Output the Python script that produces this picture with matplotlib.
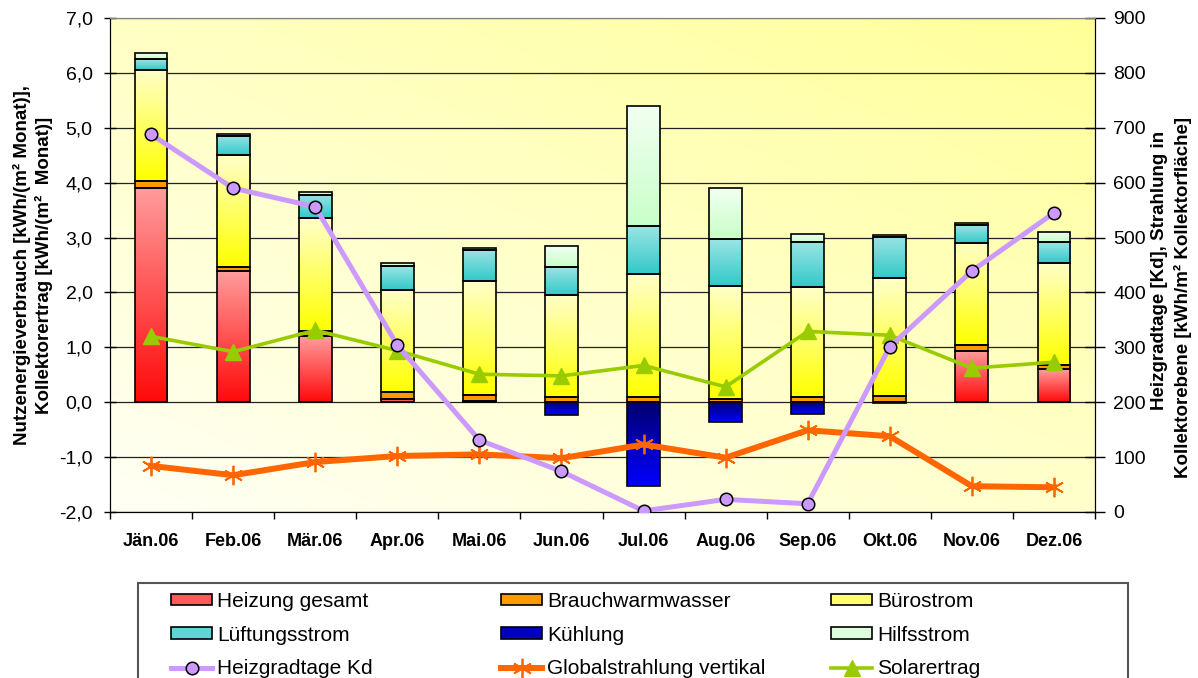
import numpy as np
import matplotlib
matplotlib.use("Agg")
import matplotlib.pyplot as plt
from matplotlib.colors import to_rgb
from matplotlib.patches import Patch, Rectangle
from matplotlib.lines import Line2D

plt.rcParams['font.family'] = ['Liberation Sans', 'DejaVu Sans']

# ---- data -------------------------------------------------------------
months = ['Jän.06', 'Feb.06', 'Mär.06', 'Apr.06', 'Mai.06', 'Jun.06',
          'Jul.06', 'Aug.06', 'Sep.06', 'Okt.06', 'Nov.06', 'Dez.06']

# energy use per month [kWh/(m² Monat)]
heizung = [3.90, 2.39, 1.20, 0.05, 0.03, 0.00, 0.00, 0.00, 0.00, 0.00, 0.93, 0.60]
brauchwarmwasser = [0.13, 0.07, 0.10, 0.13, 0.10, 0.10, 0.10, 0.05, 0.10, 0.12, 0.11, 0.07]
buerostrom = [2.03, 2.04, 2.05, 1.87, 2.07, 1.86, 2.24, 2.07, 2.00, 2.14, 1.86, 1.86]
lueftungsstrom = [0.20, 0.35, 0.43, 0.43, 0.57, 0.50, 0.87, 0.85, 0.81, 0.75, 0.32, 0.38]
hilfsstrom = [0.10, 0.04, 0.05, 0.05, 0.04, 0.39, 2.19, 0.94, 0.15, 0.04, 0.05, 0.19]
kuehlung = [0.00, 0.00, 0.00, 0.00, 0.00, -0.24, -1.52, -0.36, -0.21, -0.02, 0.00, 0.00]

# collector yield [kWh/(m² Monat)] (left axis)
solarertrag = [1.20, 0.92, 1.31, 0.94, 0.51, 0.48, 0.67, 0.28, 1.29, 1.22, 0.62, 0.73]

# right axis: heating degree days [Kd] and global radiation [kWh/m²]
heizgradtage = [688, 590, 556, 304, 131, 74, 2, 23, 15, 301, 439, 545]
globalstrahlung = [84, 67, 91, 102, 105, 98, 123, 99, 149, 138, 47, 45]

left_ticks = [-2, -1, 0, 1, 2, 3, 4, 5, 6, 7]
left_ticklabels = ['-2,0', '-1,0', '0,0', '1,0', '2,0', '3,0', '4,0', '5,0', '6,0', '7,0']
right_ticks = [0, 100, 200, 300, 400, 500, 600, 700, 800, 900]

# ---- figure -------------------------------------------------------------
W, H = 1198, 678
fig = plt.figure(figsize=(W / 100, H / 100), dpi=100)
fig.patch.set_facecolor('white')
ax1 = fig.add_axes([110 / W, 166 / H, 985 / W, 494 / H])
ax2 = ax1.twinx()

x = np.arange(len(months))
bar_w = 0.4

# plot-area background: diagonal pale-to-yellow wash
gx, gy = np.meshgrid(np.linspace(0, 1, 200), np.linspace(1, 0, 200))
tt = np.clip((gx * 0.55 + gy * 0.65) / 1.2, 0, 1)[..., None]
c0 = np.array(to_rgb('#FFFFF6'))
c1 = np.array(to_rgb('#FFFF99'))
bg = c0 * (1 - tt) + c1 * tt
ax1.imshow(bg, extent=[0, 1, 0, 1], transform=ax1.transAxes, aspect='auto',
           interpolation='bilinear', zorder=-10)


def gradient_fill(ax, patches, top, bottom):
    ct = np.array(to_rgb(top))
    cb = np.array(to_rgb(bottom))
    t = np.linspace(0, 1, 64)[:, None]
    grad = (ct * (1 - t) + cb * t)[:, None, :]
    for p in patches:
        y0, h = p.get_y(), p.get_height()
        lo, hi = min(y0, y0 + h), max(y0, y0 + h)
        if hi - lo <= 0:
            continue
        im = ax.imshow(grad, extent=[p.get_x(), p.get_x() + p.get_width(), lo, hi],
                       origin='upper', aspect='auto', interpolation='bilinear', zorder=2)
        im.set_clip_path(p)


stack = [
    (heizung, '#FF9C9C', '#FF0A0A', 'Heizung gesamt', '#FF5A5A'),
    (brauchwarmwasser, '#FF9900', '#FF9900', 'Brauchwarmwasser', '#FF9900'),
    (buerostrom, '#FFFFC8', '#FFFF00', 'Bürostrom', '#FFFF70'),
    (lueftungsstrom, '#9AE4E4', '#33C9C9', 'Lüftungsstrom', '#5FD6D6'),
    (hilfsstrom, '#F2FFF2', '#C8FFC8', 'Hilfsstrom', '#DDFFDD'),
]
bottom = np.zeros(len(months))
for vals, ctop, cbot, _, _ in stack:
    v = np.array(vals)
    bars = ax1.bar(x, v, bar_w, bottom=bottom, facecolor='none',
                   edgecolor='black', linewidth=1.2, zorder=3)
    gradient_fill(ax1, bars, ctop, cbot)
    bottom = bottom + v

bars = ax1.bar(x, kuehlung, bar_w, facecolor='none', edgecolor='black',
               linewidth=1.2, zorder=3)
gradient_fill(ax1, bars, '#000070', '#0000FF')

# collector yield on the left axis
ax1.plot(x, solarertrag, color='#99CC00', lw=2.6, marker='^', ms=11,
         mfc='#99CC00', mec='#99CC00', zorder=5)

# right-axis series
ax2.plot(x, globalstrahlung, color='#FF6600', lw=4.3, marker=(6, 2, 0), ms=14,
         mec='#FF6600', mew=1.3, zorder=5)
ax2.plot(x, heizgradtage, color='#CC99FF', lw=3.6, marker='o', ms=9,
         mfc='#CC99FF', mec='black', mew=1.1, zorder=6)

# ---- axes styling -------------------------------------------------------
ax1.set_xlim(-0.5, len(months) - 0.5)
ax1.set_ylim(-2, 7)
ax2.set_ylim(0, 900)

ax1.set_yticks(left_ticks)
ax1.set_yticklabels(left_ticklabels)
ax2.set_yticks(right_ticks)
ax2.set_yticklabels([str(v) for v in right_ticks])

for yv in left_ticks:
    ax1.axhline(yv, color='#808080' if yv == 7 else '#222222', lw=0.9, zorder=1)

ax1.set_xticks(x)
ax1.set_xticklabels(months, fontsize=13, fontweight='bold')
ax1.set_xticks(np.arange(len(months) + 1) - 0.5, minor=True)
ax1.tick_params(axis='x', which='major', length=0, pad=15)
ax1.tick_params(axis='x', which='minor', length=5, width=1, direction='out')
ax1.tick_params(axis='y', length=9, width=1, direction='inout', labelsize=14, pad=8)
ax2.tick_params(axis='y', length=14, width=1, direction='inout', labelsize=14, pad=6)

for ax in (ax1, ax2):
    ax.spines['top'].set_color('#808080')
    ax.spines['left'].set_color('black')
    ax.spines['right'].set_color('black')
    ax.spines['bottom'].set_color('black')
ax2.patch.set_visible(False)

# axis titles
fig.text(22 / W, 1 - 265 / H, 'Nutzenergieverbrauch [kWh/(m² Monat)],',
         rotation=90, ha='center', va='center', fontsize=13.5, fontweight='bold')
fig.text(44 / W, 1 - 265 / H, 'Kollektorertrag [kWh/(m²  Monat)]',
         rotation=90, ha='center', va='center', fontsize=13.5, fontweight='bold')
fig.text(1159 / W, 1 - 270 / H, 'Heizgradtage [Kd], Strahlung in',
         rotation=90, ha='center', va='center', fontsize=13.5, fontweight='bold')
fig.text(1183 / W, 1 - 297 / H, 'Kollektorebene [kWh/m² Kollektorfläche]',
         rotation=90, ha='center', va='center', fontsize=13.5, fontweight='bold')

# ---- legend -------------------------------------------------------------
h = {}
for _, _, _, name, mid in stack:
    h[name] = Patch(facecolor=mid, edgecolor='black', linewidth=1.2)
h['Kühlung'] = Patch(facecolor='#0000C0', edgecolor='black', linewidth=1.2)
h['Heizgradtage Kd'] = Line2D([], [], color='#CC99FF', lw=3.6, marker='o', ms=9,
                              mfc='#CC99FF', mec='black', mew=1.1)
h['Globalstrahlung vertikal'] = Line2D([], [], color='#FF6600', lw=4.3,
                                       marker=(6, 2, 0), ms=14, mec='#FF6600', mew=1.3)
h['Solarertrag'] = Line2D([], [], color='#99CC00', lw=2.6, marker='^', ms=11,
                          mfc='#99CC00', mec='#99CC00')

columns = [
    (171, ['Heizung gesamt', 'Lüftungsstrom', 'Heizgradtage Kd']),
    (501, ['Brauchwarmwasser', 'Kühlung', 'Globalstrahlung vertikal']),
    (831, ['Bürostrom', 'Hilfsstrom', 'Solarertrag']),
]
for xc, names in columns:
    fig.legend([h[n] for n in names], names, loc='upper left',
               bbox_to_anchor=(xc / W, 1 - 592 / H), frameon=False,
               fontsize=15, handlelength=1.97, handleheight=0.47,
               handletextpad=0.24, labelspacing=0.70, borderpad=0,
               borderaxespad=0, numpoints=1)

fig.add_artist(Rectangle((138 / W, -0.02), (1128 - 138) / W, (678 - 583) / H + 0.02,
                         transform=fig.transFigure, fill=False,
                         edgecolor='#555555', linewidth=1.5))

fig.savefig('out.png', dpi=100)
